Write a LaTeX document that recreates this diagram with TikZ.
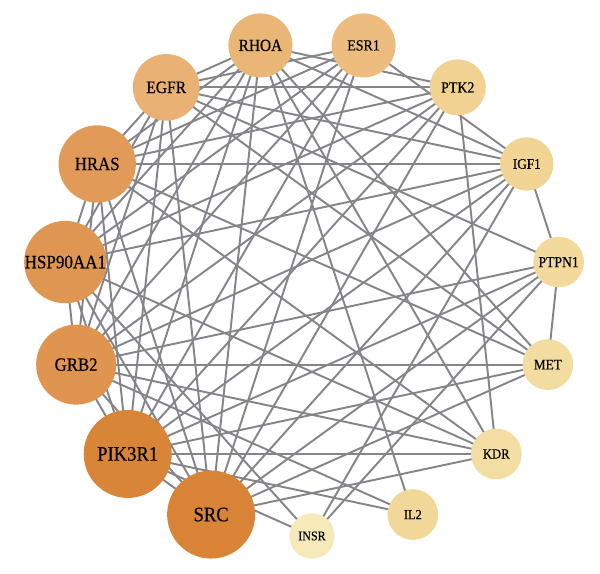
\documentclass[tikz,border=0pt]{standalone}
\usepackage{fontspec}
\newfontfamily\labfont[FakeStretch=0.9,FakeBold=0.4]{Liberation Serif}
\begin{document}
\begin{tikzpicture}[x=0.75pt,y=0.75pt,
  gene/.style={circle,draw=none,inner sep=0pt,text=black,font=\labfont},
  link/.style={draw=edgegray,line width=1.45pt}]
\definecolor{edgegray}{RGB}{132,132,138}
\definecolor{cSRC}{RGB}{217,131,54}
\definecolor{cPIK}{RGB}{217,133,56}
\definecolor{cGRB}{RGB}{223,149,80}
\definecolor{cHSP}{RGB}{223,150,82}
\definecolor{cHRAS}{RGB}{225,154,87}
\definecolor{cEGFR}{RGB}{233,178,116}
\definecolor{cRHOA}{RGB}{234,182,118}
\definecolor{cESR}{RGB}{236,189,126}
\definecolor{cPTK}{RGB}{241,210,146}
\definecolor{cIGF}{RGB}{242,213,149}
\definecolor{cPTPN}{RGB}{243,217,156}
\definecolor{cMET}{RGB}{243,220,160}
\definecolor{cKDR}{RGB}{243,221,162}
\definecolor{cIL}{RGB}{242,216,152}
\definecolor{cINSR}{RGB}{246,234,184}
\useasboundingbox (-312,-286) rectangle (288,288);
\foreach \n/\a in {INSR/270,IL2/294,KDR/318,MET/342,PTPN1/6,IGF1/30,PTK2/54,ESR1/78,RHOA/102,EGFR/126,HRAS/150,HSP/174,GRB2/198,PIK/222,SRC/246}
  \coordinate (p\n) at (\a:248);
\foreach \u/\v in {
  SRC/PIK,SRC/GRB2,SRC/HSP,SRC/HRAS,SRC/EGFR,SRC/RHOA,SRC/ESR1,SRC/PTK2,SRC/IGF1,SRC/PTPN1,SRC/MET,SRC/KDR,
  PIK/GRB2,PIK/HSP,PIK/HRAS,PIK/EGFR,PIK/RHOA,PIK/ESR1,PIK/PTK2,PIK/IGF1,PIK/PTPN1,PIK/MET,PIK/KDR,PIK/INSR,PIK/IL2,
  GRB2/HSP,GRB2/HRAS,GRB2/EGFR,GRB2/RHOA,GRB2/ESR1,GRB2/PTK2,GRB2/IGF1,GRB2/PTPN1,GRB2/MET,GRB2/KDR,GRB2/IL2,
  HSP/HRAS,HSP/EGFR,HSP/RHOA,HSP/ESR1,HSP/PTK2,HSP/IGF1,HSP/KDR,HSP/INSR,
  HRAS/EGFR,HRAS/RHOA,HRAS/ESR1,HRAS/PTK2,HRAS/IGF1,HRAS/MET,HRAS/KDR,
  EGFR/RHOA,EGFR/ESR1,EGFR/PTK2,EGFR/IGF1,EGFR/PTPN1,EGFR/MET,
  RHOA/PTK2,RHOA/IGF1,RHOA/MET,RHOA/KDR,RHOA/IL2,
  ESR1/IGF1,
  PTK2/KDR,
  IGF1/PTPN1,IGF1/INSR,
  PTPN1/MET,PTPN1/INSR}
  \draw[link] (p\u) -- (p\v);
\node[gene,fill=cSRC,minimum size=66,font=\labfont\fontsize{15.5}{16}\selectfont] (SRC) at (pSRC) {SRC};
\node[gene,fill=cPIK,minimum size=66,font=\labfont\fontsize{15.5}{16}\selectfont] (PIK) at (pPIK) {PIK3R1};
\node[gene,fill=cGRB,minimum size=60,font=\labfont\fontsize{14}{15}\selectfont] (GRB2) at (pGRB2) {GRB2};
\node[gene,fill=cHSP,minimum size=58,font=\labfont\fontsize{14.2}{15}\selectfont] (HSP) at (pHSP) {HSP90AA1};
\node[gene,fill=cHRAS,minimum size=58,font=\labfont\fontsize{14}{15}\selectfont] (HRAS) at (pHRAS) {HRAS};
\node[gene,fill=cEGFR,minimum size=50,font=\labfont\fontsize{13}{14}\selectfont] (EGFR) at (pEGFR) {EGFR};
\node[gene,fill=cRHOA,minimum size=48,font=\labfont\fontsize{12.8}{14}\selectfont] (RHOA) at (pRHOA) {RHOA};
\node[gene,fill=cESR,minimum size=48,font=\labfont\fontsize{11.6}{13}\selectfont] (ESR1) at (pESR1) {ESR1};
\node[gene,fill=cPTK,minimum size=42,font=\labfont\fontsize{11.6}{13}\selectfont] (PTK2) at (pPTK2) {PTK2};
\node[gene,fill=cIGF,minimum size=40,font=\labfont\fontsize{11}{12}\selectfont] (IGF1) at (pIGF1) {IGF1};
\node[gene,fill=cPTPN,minimum size=38,font=\labfont\fontsize{11.4}{12}\selectfont] (PTPN1) at (pPTPN1) {PTPN1};
\node[gene,fill=cMET,minimum size=38,font=\labfont\fontsize{11}{12}\selectfont] (MET) at (pMET) {MET};
\node[gene,fill=cKDR,minimum size=38,font=\labfont\fontsize{10.5}{12}\selectfont] (KDR) at (pKDR) {KDR};
\node[gene,fill=cIL,minimum size=38,font=\labfont\fontsize{10.3}{12}\selectfont] (IL2) at (pIL2) {IL2};
\node[gene,fill=cINSR,minimum size=34,font=\labfont\fontsize{10}{11}\selectfont] (INSR) at (pINSR) {INSR};
\end{tikzpicture}
\end{document}
